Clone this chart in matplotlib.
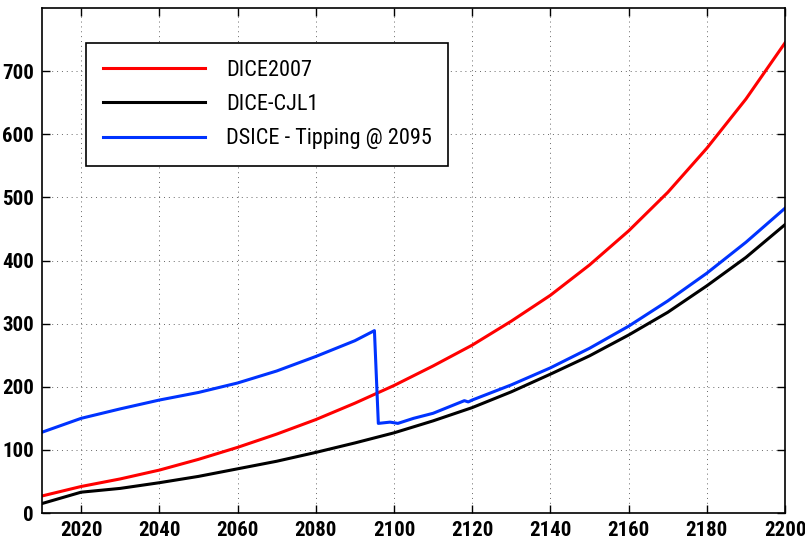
import matplotlib.pyplot as plt
from matplotlib import font_manager

# data
years_dice = [2010, 2020, 2030, 2040, 2050, 2060, 2070, 2080, 2090, 2100,
              2110, 2120, 2130, 2140, 2150, 2160, 2170, 2180, 2190, 2200]
dice2007 = [27, 42, 54, 68, 85, 104, 125, 148, 174, 202,
            233, 266, 304, 345, 393, 447, 508, 578, 656, 745]
dice_cjl1 = [15, 33, 39, 48, 58, 70, 82, 96, 111, 127,
             146, 167, 192, 220, 249, 282, 318, 360, 405, 457]

years_dsice = [2010, 2020, 2030, 2040, 2050, 2060, 2070, 2080, 2090, 2095,
               2096, 2099, 2101, 2105, 2110, 2118, 2119, 2120, 2130, 2140,
               2150, 2160, 2170, 2180, 2190, 2200]
dsice = [128, 150, 165, 179, 191, 206, 225, 248, 273, 289,
         142, 144, 142, 150, 158, 178, 176, 179, 203, 230,
         261, 296, 336, 380, 429, 483]

labels = ["DICE2007", "DICE-CJL1", "DSICE - Tipping @ 2095"]
xticks = list(range(2020, 2201, 20))
yticks = list(range(0, 701, 100))

# narrow sans like the matlab export, if one is installed
names = {f.name for f in font_manager.fontManager.ttflist}
family = "Liberation Sans"
for cand in ["Liberation Sans Narrow", "Roboto Condensed", "DejaVu Sans Condensed",
             "Open Sans Condensed"]:
    if cand in names:
        family = cand
        break
plt.rcParams["font.family"] = family

fig = plt.figure(figsize=(8.05, 5.42), dpi=100)
ax = fig.add_axes([0.0522, 0.0535, 0.9230, 0.9315])

ax.plot(years_dice, dice2007, color="#ff0000", lw=2.2, label=labels[0])
ax.plot(years_dice, dice_cjl1, color="black", lw=2.2, label=labels[1])
ax.plot(years_dsice, dsice, color="#0033ff", lw=2.2, label=labels[2])

ax.set_xlim(2010, 2200)
ax.set_ylim(0, 800)
ax.set_xticks(xticks)
ax.set_yticks(yticks)
ax.tick_params(direction="in", top=True, right=True, length=6, width=1, pad=6,
               labelsize=15)
for t in ax.get_xticklabels() + ax.get_yticklabels():
    t.set_fontweight("bold")
ax.grid(True, linestyle=(0, (1, 4)), color="black", lw=0.7, alpha=0.6)
for s in ax.spines.values():
    s.set_linewidth(1.2)

leg = ax.legend(loc="upper left", bbox_to_anchor=(0.059, 0.931), fontsize=16,
                frameon=True, fancybox=False, edgecolor="black", framealpha=1,
                handlelength=4.6, handletextpad=0.95, labelspacing=0.6,
                borderpad=0.75, borderaxespad=0)
leg.get_frame().set_linewidth(1.2)

fig.savefig("out.png", dpi=100)
